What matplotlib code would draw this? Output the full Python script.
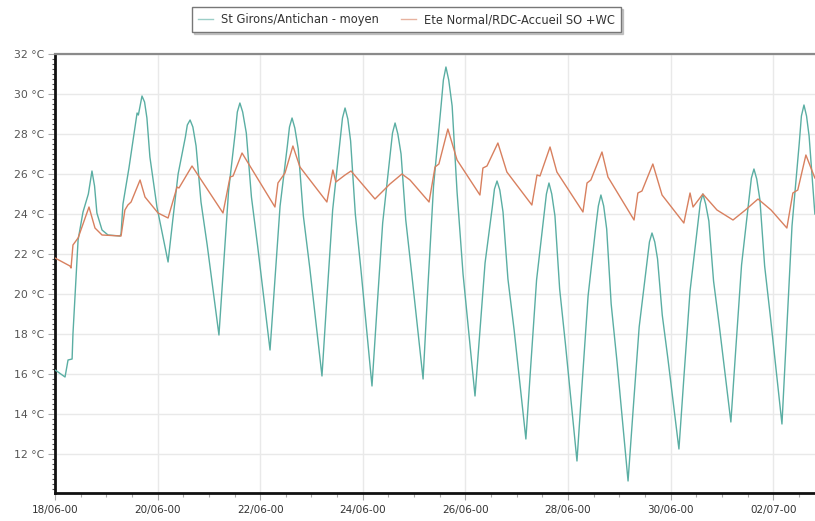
import numpy as np
import matplotlib
matplotlib.use("Agg")
import matplotlib.pyplot as plt
import matplotlib.dates as mdates
from matplotlib.ticker import MultipleLocator, FixedLocator
import datetime as dt

# ---- data (hours since 18/06/2000 00:00, temperature °C) ----
start = dt.datetime(2000, 6, 18, 0, 0)

green_label = "St Girons/Antichan - moyen"
green_h = [0, 1.4, 4.7, 6.1, 8.0, 8.4, 10.8, 13.1, 15.6, 17.3,
           18.5, 19.6, 22.0, 24.8, 30.4, 30.9, 31.8, 34.6, 38.4, 39.0,
           40.7, 41.9, 43.0, 44.4, 47.7, 52.9,
           55.1, 57.6, 61.0, 61.9, 63.2, 64.5, 66.0, 68.3, 71.2, 76.7,
           78.8, 81.2, 84.4, 85.3, 86.5, 87.8, 89.5, 91.9, 94.8, 100.6,
           102.8, 105.3, 108.7, 109.7, 110.9, 112.2, 113.8, 116.2, 119.2, 124.9,
           127.2, 129.9, 133.4, 134.5, 135.7, 137.0, 138.3, 140.5, 143.1, 148.3,
           150.6, 153.3, 156.8, 157.9, 159.1, 160.4, 161.9, 164.1, 166.8, 172.2,
           174.4, 177.1, 180.7, 181.7, 182.9, 184.2, 185.8, 188.1, 190.9, 196.5,
           198.7, 201.2, 204.6, 205.6, 206.8, 208.1, 209.6, 211.9, 214.8, 220.3,
           222.6, 225.3, 228.8, 229.9, 231.1, 232.4, 233.9, 236.1, 238.8, 244.2,
           246.6, 249.4, 253.0, 254.2, 255.4, 256.7, 258.1, 260.2, 262.9, 268.1,
           270.5, 273.3, 276.9, 278.1, 279.3, 280.6, 281.9, 284.1, 286.7, 291.9,
           294.3, 297.1, 300.7, 301.9, 303.1, 304.4, 305.9, 308.1, 310.8, 316.2,
           318.5, 321.2, 324.7, 325.8, 327.0, 328.3, 329.8, 332.0, 334.7, 340.1,
           342.3, 344.8, 348.2, 349.2, 350.4, 351.6, 352.8, 355.5]
green_v = [16.2, 16.1, 15.85, 16.7, 16.75, 18.0, 22.7, 24.1, 25.0, 26.15,
           25.4, 24.05, 23.2, 22.95, 22.9, 23.0, 24.5, 26.3, 29.05, 28.95,
           29.9, 29.6, 28.8, 26.85, 24.35, 21.6,
           23.7, 26.0, 27.85, 28.45, 28.7, 28.35, 27.4, 24.6, 22.45, 17.95,
           21.3, 25.15, 28.15, 29.1, 29.55, 29.1, 28.05, 24.85, 22.4, 17.2,
           20.55, 24.4, 27.4, 28.35, 28.8, 28.3, 27.25, 23.9, 21.3, 15.9,
           19.8, 24.2, 27.7, 28.8, 29.3, 28.75, 27.65, 24.0, 21.25, 15.4,
           19.2, 23.55, 26.95, 28.05, 28.55, 28.0, 27.0, 23.7, 21.1, 15.75,
           20.25, 25.4, 29.5, 30.7, 31.35, 30.7, 29.4, 25.1, 21.0, 14.9,
           18.0, 21.55, 24.35, 25.25, 25.65, 25.2, 24.1, 20.75, 18.2, 12.75,
           16.45, 20.7, 24.0, 25.0, 25.55, 25.0, 23.9, 20.25, 17.5, 11.65,
           15.5, 19.9, 23.35, 24.4, 24.95, 24.4, 23.25, 19.5, 16.65, 10.65,
           14.25, 18.35, 21.55, 22.6, 23.05, 22.6, 21.75, 18.95, 16.8, 12.25,
           15.95, 20.15, 23.45, 24.55, 25.0, 24.5, 23.65, 20.65, 18.4, 13.6,
           17.25, 21.45, 24.75, 25.8, 26.25, 25.75, 24.7, 21.4, 18.85, 13.5,
           18.15, 23.4, 27.55, 28.9, 29.45, 28.9, 27.9, 24.0]

orange_label = "Ete Normal/RDC-Accueil SO +WC"
orange_h = [0, 7.0, 7.5, 8.4, 10.8, 15.9, 18.7, 22.0, 30.9, 32.7,
            34.1, 35.6, 39.8, 42.1, 48.2, 52.9, 57.1, 58.0, 64.1, 78.6,
            81.9, 83.3, 87.5, 102.9, 104.3, 107.6, 111.3, 114.6, 127.2, 130.0,
            131.4, 135.7, 138.5, 149.7, 156.7, 162.3, 166.1, 175.0, 177.8, 179.6,
            183.8, 188.1, 198.8, 200.2, 202.1, 207.2, 211.4, 223.1, 225.5, 226.9,
            231.6, 234.8, 247.0, 248.9, 250.7, 255.9, 258.7, 270.9, 272.7, 274.6,
            279.7, 284.0, 294.2, 297.1, 298.5, 303.1, 309.7, 317.2, 323.0, 328.9,
            335.0, 342.4, 345.2, 347.5, 351.3, 355.5]
orange_v = [21.8, 21.4, 21.3, 22.45, 22.8, 24.35, 23.3, 22.95, 22.9, 24.2,
            24.45, 24.6, 25.7, 24.85, 24.05, 23.8, 25.35, 25.3, 26.4, 24.05,
            25.85, 25.9, 27.05, 24.35, 25.55, 26.05, 27.4, 26.35, 24.6, 26.2,
            25.6, 25.95, 26.15, 24.75, 25.5, 26.0, 25.7, 24.6, 26.35, 26.5,
            28.25, 26.7, 24.95, 26.3, 26.4, 27.55, 26.1, 24.45, 25.95, 25.9,
            27.35, 26.1, 24.1, 25.55, 25.7, 27.1, 25.85, 23.7, 25.05, 25.15,
            26.5, 24.95, 23.55, 25.05, 24.35, 25.0, 24.2, 23.7, 24.2, 24.75,
            24.2, 23.3, 25.05, 25.2, 26.95, 25.8]

y_ticks = [12, 14, 16, 18, 20, 22, 24, 26, 28, 30, 32]
x_tick_dates = ["2000-06-18", "2000-06-20", "2000-06-22", "2000-06-24",
                "2000-06-26", "2000-06-28", "2000-06-30", "2000-07-02"]

# ---- figure ----
fig = plt.figure(figsize=(8.15, 5.21), dpi=100)
ax = fig.add_axes([55 / 815, 1 - 493 / 521, 1 - 55 / 815, (493 - 54) / 521])

def to_dates(hours):
    return [start + dt.timedelta(hours=h) for h in hours]

green_col = "#5aaea3"
orange_col = "#d8805f"
ax.plot(to_dates(green_h), green_v, color=green_col, lw=1.0, label=green_label, zorder=3)
ax.plot(to_dates(orange_h), orange_v, color=orange_col, lw=1.0, label=orange_label, zorder=4)

ax.set_ylim(10.05, 32)
ax.set_xlim(start, start + dt.timedelta(days=14.815))

ax.yaxis.set_major_locator(FixedLocator(y_ticks))
ax.set_yticklabels([f"{v} °C" for v in y_ticks])
ax.yaxis.set_minor_locator(MultipleLocator(0.25))

xt = [mdates.date2num(dt.datetime.strptime(d, "%Y-%m-%d")) for d in x_tick_dates]
ax.xaxis.set_major_locator(FixedLocator(xt))
ax.xaxis.set_major_formatter(mdates.DateFormatter("%d/%m-%y"))
ax.xaxis.set_minor_locator(mdates.HourLocator(byhour=[0, 12]))

ax.grid(True, which="major", color="#e9e9e9", lw=1.0, zorder=0)
ax.set_axisbelow(True)

for s in ("left", "bottom"):
    ax.spines[s].set_linewidth(2.0)
    ax.spines[s].set_color("#111111")
ax.spines["top"].set_linewidth(1.6)
ax.spines["top"].set_color("#8a8a8a")
ax.spines["right"].set_visible(False)

ax.tick_params(axis="y", which="major", length=5, width=0.8, color="#aaaaaa",
               labelsize=7.8, labelcolor="#555555", pad=3)
ax.tick_params(axis="y", which="minor", length=2, width=0.8, color="#555555")
ax.tick_params(axis="x", which="major", length=5, width=0.8, color="#aaaaaa",
               labelsize=7.5, labelcolor="#333333", pad=4)
ax.tick_params(axis="x", which="minor", length=3, width=0.8, color="#aaaaaa")

leg = fig.legend(loc="center", bbox_to_anchor=(0.4985, 0.9625), ncol=2,
                 frameon=True, fancybox=False, fontsize=8.3,
                 handlelength=1.3, handletextpad=0.7, columnspacing=1.9,
                 borderpad=0.55, shadow={"ox": 1.5, "oy": -1.5, "color": "0.6", "alpha": 0.5})
leg.get_frame().set_edgecolor("#777777")
leg.get_frame().set_linewidth(1.0)
for t in leg.get_texts():
    t.set_color("#333333")
for l in leg.get_lines():
    l.set_alpha(0.6)

fig.savefig("out.png", dpi=100)
